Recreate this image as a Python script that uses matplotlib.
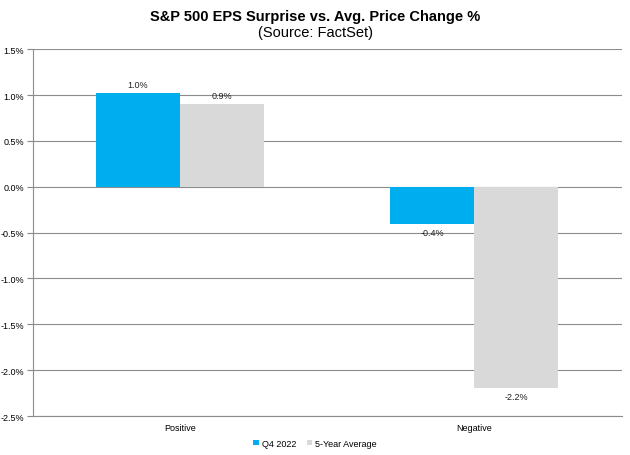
import matplotlib
matplotlib.use("Agg")
import matplotlib.pyplot as plt
import numpy as np
from matplotlib.ticker import FuncFormatter

categories = ["Positive", "Negative"]
series_names = ["Q4 2022", "5-Year Average"]
q4_2022 = [1.02, -0.41]
five_year = [0.90, -2.19]
labels_q4 = ["1.0%", "-0.4%"]
labels_5y = ["0.9%", "-2.2%"]
colors = ["#00aeef", "#d9d9d9"]

plt.rcParams['font.family'] = ['Liberation Sans', 'DejaVu Sans']

fig = plt.figure(figsize=(6.3, 4.56), dpi=100)
ax = fig.add_axes([0.0516, 0.0855, 0.935, 0.8045])

x = np.arange(len(categories))
w = 0.285
b1 = ax.bar(x - w/2, q4_2022, w, color=colors[0], label=series_names[0], zorder=2)
b2 = ax.bar(x + w/2, five_year, w, color=colors[1], label=series_names[1], zorder=2)

for bars, labs in ((b1, labels_q4), (b2, labels_5y)):
    for r, lab in zip(bars, labs):
        h = r.get_height()
        cx = r.get_x() + r.get_width()/2
        if h >= 0:
            ax.annotate(lab, (cx, h), xytext=(0, 3), textcoords="offset points",
                        ha="center", va="bottom", fontsize=6.5, color="#222222")
        else:
            ax.annotate(lab, (cx, h), xytext=(0, -3), textcoords="offset points",
                        ha="center", va="top", fontsize=6.5, color="#222222")

ax.set_xlim(-0.5, 1.5)
ax.set_ylim(-2.5, 1.5)
ax.set_yticks(np.arange(-2.5, 1.51, 0.5))
ax.yaxis.set_major_formatter(FuncFormatter(lambda v, p: f"{v:.1f}%"))
ax.set_xticks(x)
ax.set_xticklabels(categories)
ax.tick_params(axis='x', length=0, labelsize=6.5, pad=5)
ax.tick_params(axis='y', length=4, labelsize=6.5, color="#888888", width=0.8, pad=2)
ax.grid(axis='y', color="#8c8c8c", linewidth=0.8, zorder=0)
ax.set_axisbelow(True)
for s in ["top", "right"]:
    ax.spines[s].set_visible(False)
for s in ["left", "bottom"]:
    ax.spines[s].set_color("#8c8c8c")
    ax.spines[s].set_linewidth(0.8)

fig.text(0.5, 0.963, "S&P 500 EPS Surprise vs. Avg. Price Change %", ha="center",
         va="center", fontsize=10.5, fontweight="bold")
fig.text(0.5, 0.928, "(Source: FactSet)", ha="center", va="center", fontsize=10.5)

leg = fig.legend(loc="center", bbox_to_anchor=(0.5, 0.026), ncol=2, frameon=False,
                 fontsize=6.5, handlelength=0.6, handleheight=0.6, handletextpad=0.3,
                 columnspacing=1.2)

fig.savefig("out.png", dpi=100)
